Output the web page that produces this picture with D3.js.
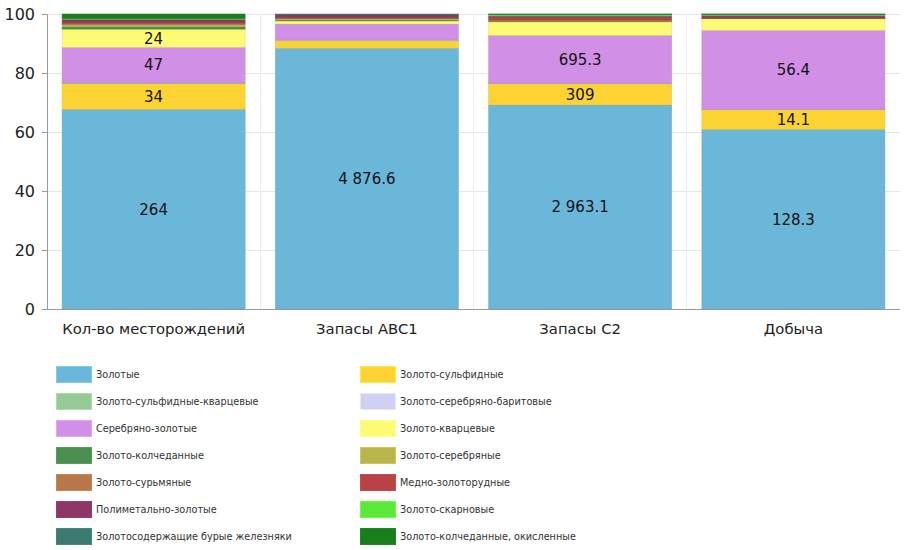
<!DOCTYPE html>
<html><head><meta charset="utf-8">
<script src="https://cdn.jsdelivr.net/npm/d3@7"></script>
<style>
body{margin:0;background:#fff;}
svg{display:block;font-family:"DejaVu Sans",Verdana,sans-serif;}
</style></head>
<body><svg id="c" width="908" height="550"></svg>
<script>
const categories = ["Кол-во месторождений", "Запасы ABC1", "Запасы С2", "Добыча"];
const seriesNames = [
  "Золотые", "Золото-сульфидные", "Золото-сульфидные-кварцевые", "Золото-серебряно-баритовые",
  "Серебряно-золотые", "Золото-кварцевые", "Золото-колчеданные", "Золото-серебряные",
  "Золото-сурьмяные", "Медно-золоторудные", "Полиметально-золотые", "Золото-скарновые",
  "Золотосодержащие бурые железняки", "Золото-колчеданные, окисленные"
];
const seriesColors = [
  "#6bb7da", "#fdd334", "#96c994", "#d0d0f2",
  "#d190e6", "#fdfa74", "#4a8f50", "#b8b54b",
  "#b87748", "#b94246", "#8e3663", "#5ce83b",
  "#3d7a70", "#187f1c"
];
// values per series, one per category
const vZolotye        = [264, 4876.6, 2963.1, 128.3];
const vSulfid         = [34, 140, 309, 14.1];
const vSulfidKvarc    = [1, 5, 4, 0.2];
const vBarit          = [0, 8, 3, 0.1];
const vSerebrZol      = [47, 300, 695.3, 56.4];
const vKvarc          = [24, 58, 197, 8.3];
const vKolched        = [3, 18, 10, 0.1];
const vSerebr         = [3, 28, 10, 0.1];
const vSurm           = [1, 5, 3, 0.1];
const vMedno          = [2, 5, 45, 0.2];
const vPolimet        = [4, 54, 15, 1.5];
const vSkarn          = [1, 0, 20, 0.7];
const vBurye          = [0, 18, 8, 0.5];
const vOkisl          = [6, 0, 2, 0.1];
const seriesValues = [vZolotye, vSulfid, vSulfidKvarc, vBarit, vSerebrZol, vKvarc, vKolched,
  vSerebr, vSurm, vMedno, vPolimet, vSkarn, vBurye, vOkisl];
const yTicks = [0, 20, 40, 60, 80, 100];

const svg = d3.select("#c");
const m = {left: 47, top: 14};
const plotB = 309;
const x = d3.scaleBand().domain(categories).range([m.left, 900]).paddingInner(0.142).paddingOuter(0.071);
const y = d3.scaleLinear().domain([0, 100]).range([plotB, m.top]);

// grid
svg.append("g").selectAll("line").data(yTicks.slice(1)).join("line")
  .attr("x1", m.left).attr("x2", 900).attr("y1", d => y(d)).attr("y2", d => y(d))
  .attr("stroke", "#e6e6e6").attr("stroke-width", 1).attr("shape-rendering", "crispEdges");
const step = x.step();
svg.append("g").selectAll("line").data(categories.slice(1)).join("line")
  .attr("x1", d => x(d) - (step - x.bandwidth()) / 2).attr("x2", d => x(d) - (step - x.bandwidth()) / 2)
  .attr("y1", m.top).attr("y2", plotB)
  .attr("stroke", "#ececec").attr("shape-rendering", "crispEdges");

// stacked data (percent)
const fmt = d3.formatLocale({decimal: ".", thousands: "\u00a0", grouping: [3], currency: ["", ""]}).format(",.1~f");
const totals = categories.map((c, i) => d3.sum(seriesValues, s => s[i]));
const g = svg.append("g");
categories.forEach((c, i) => {
  let cum = 0;
  seriesValues.forEach((s, k) => {
    const v = s[i];
    if (v <= 0) return;
    const p0 = cum / totals[i] * 100;
    cum += v;
    const p1 = cum / totals[i] * 100;
    const col = seriesColors[k];
    g.append("rect")
      .attr("x", x(c)).attr("width", x.bandwidth())
      .attr("y", y(p1)).attr("height", y(p0) - y(p1))
      .attr("fill", col)
      .attr("stroke", d3.color(col).darker(0.35)).attr("stroke-width", 0.8).attr("stroke-opacity", 0.6);
    if (y(p0) - y(p1) > 17.5) {
      g.append("text")
        .attr("x", x(c) + x.bandwidth() / 2).attr("y", (y(p0) + y(p1)) / 2)
        .attr("dy", "0.36em").attr("text-anchor", "middle")
        .attr("font-size", 15).attr("fill", "#111")
        .text(fmt(v));
    }
  });
});

// axes
const ya = svg.append("g").attr("transform", `translate(${m.left},0)`)
  .call(d3.axisLeft(y).tickValues(yTicks).tickSize(5).tickPadding(7));
ya.select(".domain").attr("stroke", "#999");
ya.selectAll(".tick line").attr("stroke", "#999");
ya.selectAll("text").attr("font-size", 16).attr("fill", "#222").attr("font-family", "DejaVu Sans, Verdana, sans-serif");

const xa = svg.append("g").attr("transform", `translate(0,${plotB})`)
  .call(d3.axisBottom(x).tickSize(0).tickPadding(14));
xa.select(".domain").attr("d", `M${m.left - 5},0.5H900`).attr("stroke", "#999");
xa.selectAll("text").attr("font-size", 14.8).attr("fill", "#222").attr("font-family", "DejaVu Sans, Verdana, sans-serif");

// legend
const lg = svg.append("g");
seriesNames.forEach((n, k) => {
  const col = k % 2, row = Math.floor(k / 2);
  const lx = col === 0 ? 56 : 360, ly = 366 + row * 27;
  lg.append("rect").attr("x", lx + 0.5).attr("y", ly + 0.5).attr("width", 35).attr("height", 16)
    .attr("fill", seriesColors[k]).attr("stroke", d3.color(seriesColors[k]).brighter(0.3)).attr("stroke-width", 1);
  lg.append("text").attr("x", lx + 40).attr("y", ly + 8.5).attr("dy", "0.35em")
    .attr("font-size", 9.7).attr("fill", "#333").text(n);
});
</script></body></html>
